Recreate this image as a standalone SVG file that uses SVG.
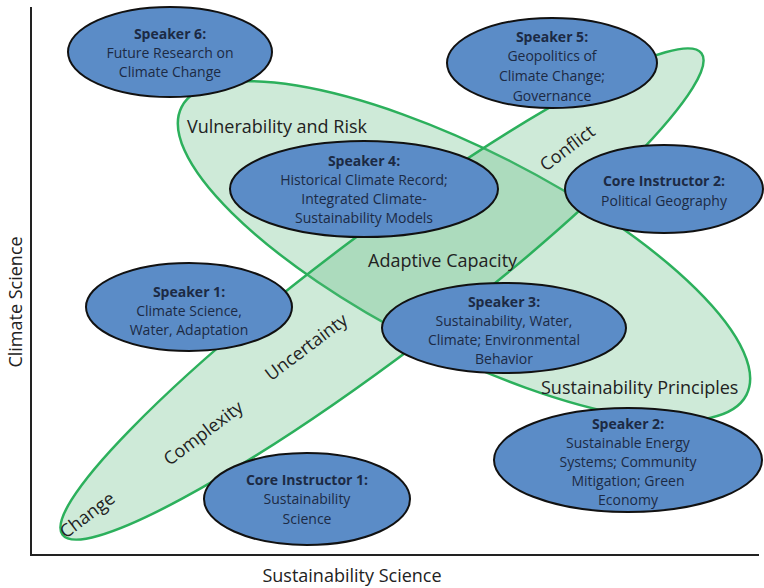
<svg xmlns="http://www.w3.org/2000/svg" width="764" height="588" viewBox="0 0 764 588">
  <style>
    .band { fill: #5cb97f; fill-opacity: 0.3; stroke: #2cb05c; stroke-width: 2.5; }
    .node { fill: #5b8cc7; stroke: #111; stroke-width: 2; }
    .nt { font-family: "Open Sans", "Liberation Sans", sans-serif; font-size: 14px; fill: #1c2a44; text-anchor: middle; }
    .nt .h { font-weight: bold; }
    .lbl { font-family: "Open Sans", "Liberation Sans", sans-serif; font-size: 18px; fill: #222; }
    .axis { stroke: #222; stroke-width: 2; fill: none; }
  </style>

  <!-- axes -->
  <g id="axes">
    <path class="axis" d="M31 7 V555 H759"/>
    <text class="lbl" x="352" y="582" text-anchor="middle">Sustainability Science</text>
    <text class="lbl" transform="translate(22 302) rotate(-90)" text-anchor="middle">Climate Science</text>
  </g>

  <!-- theme bands -->
  <g id="connectors">
    <ellipse id="band-vulnerability" class="band" cx="464" cy="251" rx="317" ry="101" transform="rotate(27 464 251)"/>
    <ellipse id="band-change" class="band" cx="382" cy="294" rx="400" ry="61" transform="rotate(-37 382 294)"/>
  </g>

  <g id="band-labels">
    <text class="lbl" x="187" y="133">Vulnerability and Risk</text>
    <text class="lbl" x="368" y="267">Adaptive Capacity</text>
    <text class="lbl" x="541" y="394">Sustainability Principles</text>
    <text class="lbl" text-anchor="middle" transform="translate(571 153) rotate(-37)">Conflict</text>
    <text class="lbl" text-anchor="middle" transform="translate(310 352) rotate(-37)">Uncertainty</text>
    <text class="lbl" text-anchor="middle" transform="translate(207 438) rotate(-37)">Complexity</text>
    <text class="lbl" text-anchor="middle" transform="translate(91 520) rotate(-37)">Change</text>
  </g>

  <g id="speaker6">
    <ellipse class="node" cx="170" cy="52" rx="102" ry="45"/>
    <text class="nt"><tspan class="h" x="170" y="39">Speaker 6:</tspan><tspan x="170" y="58">Future Research on</tspan><tspan x="170" y="77">Climate Change</tspan></text>
  </g>

  <g id="speaker5">
    <ellipse class="node" cx="552" cy="63" rx="105" ry="45"/>
    <text class="nt"><tspan class="h" x="552" y="42">Speaker 5:</tspan><tspan x="552" y="61">Geopolitics of</tspan><tspan x="552" y="81">Climate Change;</tspan><tspan x="552" y="101">Governance</tspan></text>
  </g>

  <g id="core2">
    <ellipse class="node" cx="664" cy="189" rx="99" ry="44"/>
    <text class="nt"><tspan class="h" x="664" y="186">Core Instructor 2:</tspan><tspan x="664" y="206">Political Geography</tspan></text>
  </g>

  <g id="speaker4">
    <ellipse class="node" cx="364" cy="189" rx="134" ry="48"/>
    <text class="nt"><tspan class="h" x="364" y="166">Speaker 4:</tspan><tspan x="364" y="185">Historical Climate Record;</tspan><tspan x="364" y="204">Integrated Climate-</tspan><tspan x="364" y="223">Sustainability Models</tspan></text>
  </g>

  <g id="speaker1">
    <ellipse class="node" cx="189" cy="307" rx="103" ry="44"/>
    <text class="nt"><tspan class="h" x="189" y="297">Speaker 1:</tspan><tspan x="189" y="316">Climate Science,</tspan><tspan x="189" y="335">Water, Adaptation</tspan></text>
  </g>

  <g id="speaker3">
    <ellipse class="node" cx="504" cy="328" rx="122" ry="45"/>
    <text class="nt"><tspan class="h" x="504" y="307">Speaker 3:</tspan><tspan x="504" y="326">Sustainability, Water,</tspan><tspan x="504" y="345">Climate; Environmental</tspan><tspan x="504" y="364">Behavior</tspan></text>
  </g>

  <g id="speaker2">
    <ellipse class="node" cx="628" cy="460" rx="134" ry="52"/>
    <text class="nt"><tspan class="h" x="628" y="429">Speaker 2:</tspan><tspan x="628" y="448">Sustainable Energy</tspan><tspan x="628" y="467">Systems; Community</tspan><tspan x="628" y="486">Mitigation; Green</tspan><tspan x="628" y="505">Economy</tspan></text>
  </g>

  <g id="core1">
    <ellipse class="node" cx="307" cy="499" rx="103" ry="46"/>
    <text class="nt"><tspan class="h" x="307" y="485">Core Instructor 1:</tspan><tspan x="307" y="504">Sustainability</tspan><tspan x="307" y="524">Science</tspan></text>
  </g>
</svg>
